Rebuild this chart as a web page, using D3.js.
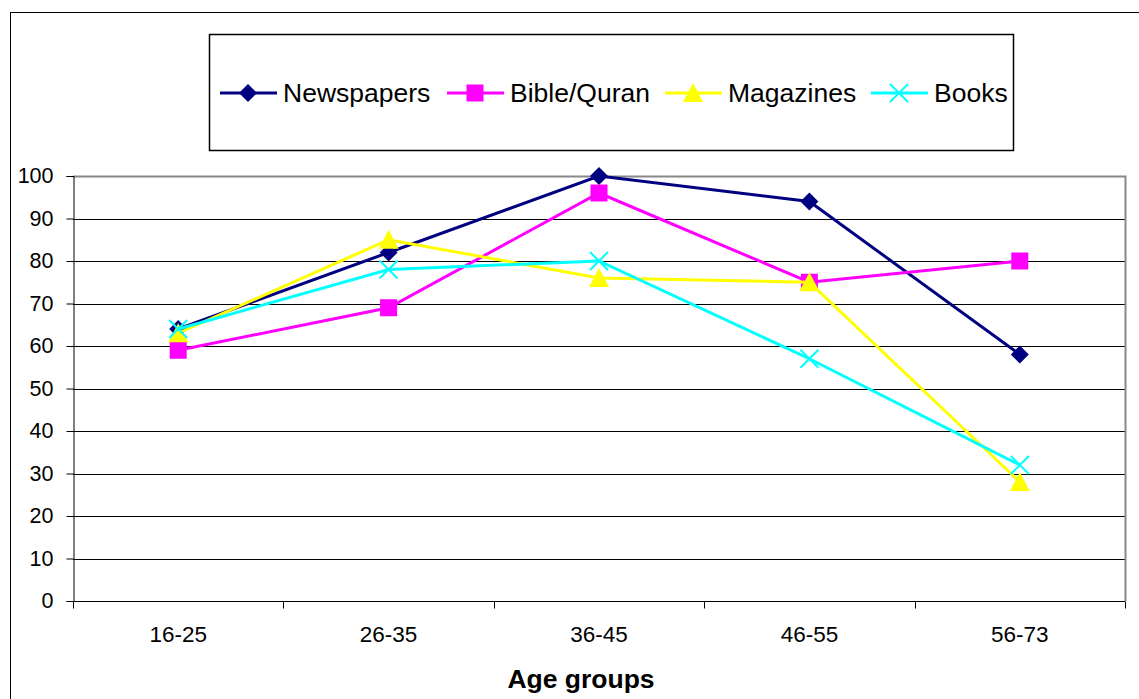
<!DOCTYPE html>
<html><head><meta charset="utf-8">
<script src="https://cdn.jsdelivr.net/npm/d3@7"></script>
<style>body{margin:0;background:#fff;}svg{display:block;font-family:"Liberation Sans",Arial,sans-serif;}</style>
</head><body><svg id="c" width="1139" height="699"></svg>
<script>
const categories = ["16-25","26-35","36-45","46-55","56-73"];
const newspapers = [64, 82, 100, 94, 58];
const bibleQuran = [59, 69, 96, 75, 80];
const magazines = [63, 85, 76, 75, 28];
const books = [64, 78, 80, 57, 32];
const yTicks = [0,10,20,30,40,50,60,70,80,90,100];
const seriesNames = ["Newspapers","Bible/Quran","Magazines","Books"];
const seriesColors = ["#000080","#FF00FF","#FFFF00","#00FFFF"];
const seriesMarkers = ["diamond","square","triangle","x"];
const seriesValues = [newspapers, bibleQuran, magazines, books];

const svg = d3.select("#c");
svg.append("rect").attr("x",10.5).attr("y",12.5).attr("width",1140).attr("height",700)
  .attr("fill","none").attr("stroke","#000").attr("stroke-width",1);

const L=73, R=1125, T=176, B=601;
const x = d3.scaleBand().domain(categories).range([L,R]);
const y = d3.scaleLinear().domain([0,100]).range([B,T]);
const FONT = "Liberation Sans, Arial, sans-serif";

// gridlines
svg.append("g").selectAll("line").data(yTicks.filter(d=>d>0&&d<100)).join("line")
  .attr("x1",L).attr("x2",R).attr("y1",d=>Math.round(y(d))+0.5).attr("y2",d=>Math.round(y(d))+0.5)
  .attr("stroke","#000").attr("stroke-width",1);
// plot border top/right gray
svg.append("path").attr("d",`M${L},${T+0.5}H${R+0.5}V${B}`).attr("fill","none").attr("stroke","#888").attr("stroke-width",2);

// y axis
const yAxis = d3.axisLeft(y).tickValues(yTicks).tickSize(7).tickPadding(13);
const gy = svg.append("g").attr("transform",`translate(${L+0.5},0)`).call(yAxis);
gy.attr("font-size",null).attr("font-family",null);
gy.select(".domain").attr("stroke","#000");
gy.selectAll(".tick line").attr("stroke","#000");
gy.selectAll(".tick text").attr("font-size",21.5).attr("fill","#000").attr("font-family",FONT);

// x axis
const xAxis = d3.axisBottom(x).tickSize(0).tickPadding(25);
const gx = svg.append("g").attr("transform",`translate(0,${B+0.5})`).call(xAxis);
gx.attr("font-size",null).attr("font-family",null);
gx.select(".domain").attr("stroke","#000").attr("d",`M${L},0H${R}`);
gx.selectAll(".tick text").attr("font-size",22.5).attr("fill","#000").attr("font-family",FONT);
// category boundary ticks
const bounds = categories.map(c=>x(c)).concat([R]);
gx.append("g").selectAll("line").data(bounds).join("line")
  .attr("x1",d=>Math.round(d)+0.5).attr("x2",d=>Math.round(d)+0.5).attr("y1",0).attr("y2",7).attr("stroke","#000");

svg.append("text").attr("x",581).attr("y",688).attr("text-anchor","middle")
  .attr("font-size",26.5).attr("font-weight","bold").attr("font-family",FONT).text("Age groups");

function marker(g, type, cx, cy, color){
  if(type==="diamond"){
    g.append("path").attr("d",`M${cx},${cy-9}L${cx+9},${cy}L${cx},${cy+9}L${cx-9},${cy}Z`).attr("fill",color);
  } else if(type==="square"){
    g.append("rect").attr("x",cx-8.5).attr("y",cy-8.5).attr("width",17).attr("height",17).attr("fill",color);
  } else if(type==="triangle"){
    g.append("path").attr("d",`M${cx},${cy-10}L${cx+10},${cy+9}L${cx-10},${cy+9}Z`).attr("fill",color);
  } else {
    g.append("path").attr("d",`M${cx-9},${cy-9}L${cx+9},${cy+9}M${cx+9},${cy-9}L${cx-9},${cy+9}`)
      .attr("stroke",color).attr("stroke-width",2).attr("fill","none");
  }
}

const line = d3.line().x((d,i)=>x(categories[i])+x.bandwidth()/2).y(d=>y(d));
seriesValues.forEach((vals,si)=>{
  const g = svg.append("g");
  g.append("path").datum(vals).attr("d",line).attr("fill","none")
    .attr("stroke",seriesColors[si]).attr("stroke-width",3).attr("stroke-linejoin","miter");
  vals.forEach((v,i)=>marker(g, seriesMarkers[si], x(categories[i])+x.bandwidth()/2, y(v), seriesColors[si]));
});

// legend
const leg = svg.append("g");
leg.append("rect").attr("x",209.5).attr("y",34.5).attr("width",804).attr("height",116)
  .attr("fill","#fff").attr("stroke","#000").attr("stroke-width",1.5);
const legX = [220, 447, 665, 871];
seriesNames.forEach((n,i)=>{
  const lx = legX[i], ly = 93;
  leg.append("line").attr("x1",lx).attr("x2",lx+57).attr("y1",ly).attr("y2",ly)
    .attr("stroke",seriesColors[i]).attr("stroke-width",3);
  marker(leg, seriesMarkers[i], lx+28, ly, seriesColors[i]);
  leg.append("text").attr("x",lx+63).attr("y",102).attr("font-size",26.5).attr("font-family",FONT).attr("fill","#000").text(n);
});
</script></body></html>
